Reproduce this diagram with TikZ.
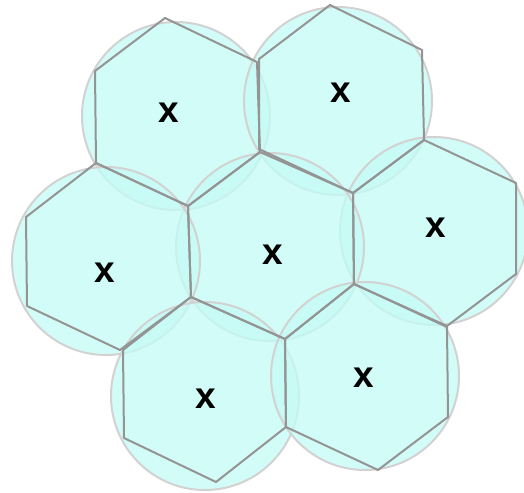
\documentclass[tikz,border=0pt]{standalone}
\usepackage{fontspec}
\setmainfont{Liberation Sans}
\definecolor{cellfill}{RGB}{197,251,245}
\definecolor{ringline}{RGB}{210,210,210}
\definecolor{hexline}{RGB}{148,148,148}
\begin{document}
\begin{tikzpicture}[x=1pt,y=-1pt,
  ring/.style={draw=ringline,line width=2pt,fill=cellfill,fill opacity=0.78},
  hexcell/.style={draw=hexline,line width=2pt,line join=round},
  lab/.style={font=\fontsize{37}{37}\selectfont\bfseries,text=black,inner sep=0pt}]
\useasboundingbox (0,0) rectangle (524,492);
% circles
\path[ring] (176,116) circle (94);
\path[ring] (338,101) circle (94);
\path[ring] (434,231) circle (94);
\path[ring] (270,247) circle (94);
\path[ring] (106,261) circle (94);
\path[ring] (205,396) circle (94);
\path[ring] (365,376) circle (94);
% hexagons
\draw[hexcell] (165,18)--(257,62)--(260,152)--(188,206)--(96,163)--(95,71)--cycle;
\draw[hexcell] (330,5)--(422,50)--(424,140)--(353,193)--(259,149)--(259,59)--cycle;
\draw[hexcell] (424,140)--(516,183)--(516,274)--(447,326)--(354,284)--(353,193)--cycle;
\draw[hexcell] (260,152)--(353,193)--(354,284)--(285,339)--(191,297)--(188,206)--cycle;
\draw[hexcell] (96,163)--(188,206)--(191,297)--(120,350)--(27,306)--(26,217)--cycle;
\draw[hexcell] (191,297)--(285,339)--(286,427)--(216,482)--(124,438)--(123,350)--cycle;
\draw[hexcell] (354,284)--(447,327)--(448,417)--(378,470)--(286,427)--(285,339)--cycle;
% labels
\node[lab] (tl) at (169,113) {x};
\node[lab] (tr) at (341,93) {x};
\node[lab] (r) at (436,228) {x};
\node[lab] (c) at (273,255) {x};
\node[lab] (l) at (105,273) {x};
\node[lab] (bl) at (206,399) {x};
\node[lab] (br) at (364,378) {x};
\end{tikzpicture}
\end{document}
